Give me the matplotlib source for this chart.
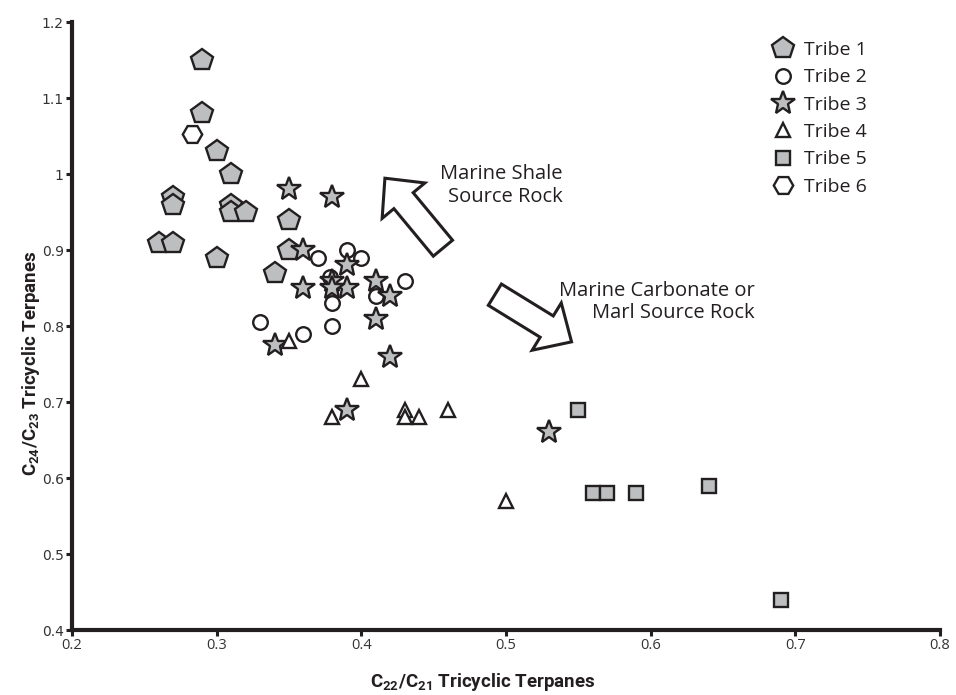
import matplotlib
matplotlib.use('agg')
from matplotlib import pyplot as plt
from matplotlib.patches import FancyArrowPatch, ArrowStyle

# C22/C21 (x) and C24/C23 (y) tricyclic terpane ratios per tribe
tribe1_x = [0.29, 0.29, 0.30, 0.31, 0.27, 0.27, 0.31, 0.31, 0.32, 0.26, 0.27, 0.30, 0.34, 0.35, 0.35]
tribe1_y = [1.15, 1.08, 1.03, 1.00, 0.97, 0.96, 0.96, 0.95, 0.95, 0.91, 0.91, 0.89, 0.87, 0.94, 0.90]

tribe2_x = [0.37, 0.39, 0.40, 0.43, 0.41, 0.38, 0.38, 0.33, 0.36, 0.378]
tribe2_y = [0.89, 0.90, 0.89, 0.86, 0.84, 0.83, 0.80, 0.805, 0.79, 0.865]

tribe3_x = [0.35, 0.38, 0.36, 0.39, 0.38, 0.39, 0.38, 0.36, 0.41, 0.42, 0.41, 0.34, 0.42, 0.39, 0.53]
tribe3_y = [0.98, 0.97, 0.90, 0.88, 0.86, 0.85, 0.85, 0.85, 0.86, 0.84, 0.81, 0.775, 0.76, 0.69, 0.66]

tribe4_x = [0.35, 0.40, 0.38, 0.43, 0.43, 0.44, 0.46, 0.50]
tribe4_y = [0.78, 0.73, 0.68, 0.69, 0.68, 0.68, 0.69, 0.57]

tribe5_x = [0.55, 0.56, 0.57, 0.59, 0.64, 0.69]
tribe5_y = [0.69, 0.58, 0.58, 0.58, 0.59, 0.44]

tribe6_x = [0.283]
tribe6_y = [1.053]

x_ticks = [0.2, 0.3, 0.4, 0.5, 0.6, 0.7, 0.8]
y_ticks = [0.4, 0.5, 0.6, 0.7, 0.8, 0.9, 1.0, 1.1, 1.2]

INK = '#231f20'
GREY = '#bcbec0'

plt.rcParams['mathtext.fontset'] = 'custom'
plt.rcParams['mathtext.bf'] = 'Roboto:bold'
plt.rcParams['mathtext.rm'] = 'Roboto:bold'

fig = plt.figure(figsize=(9.56, 6.95), dpi=100)
ax = fig.add_axes([0.0753, 0.0935, 0.908, 0.8745])

series = [
    ('Tribe 1', tribe1_x, tribe1_y, 'p', 16, GREY),
    ('Tribe 2', tribe2_x, tribe2_y, 'o', 10.5, 'white'),
    ('Tribe 3', tribe3_x, tribe3_y, '*', 18, GREY),
    ('Tribe 4', tribe4_x, tribe4_y, '^', 10, 'white'),
    ('Tribe 5', tribe5_x, tribe5_y, 's', 10, GREY),
    ('Tribe 6', tribe6_x, tribe6_y, 'H', 14, 'white'),
]
for label, xs, ys, marker, size, face in series:
    ax.plot(xs, ys, linestyle='none', marker=marker, markersize=size,
            markerfacecolor=face, markeredgecolor=INK, markeredgewidth=1.7,
            label=label, clip_on=False)

ax.set_xlim(0.2, 0.8)
ax.set_ylim(0.4, 1.2)
ax.set_xticks(x_ticks)
ax.set_yticks(y_ticks)
ax.set_xticklabels([f'{v:g}' for v in x_ticks], fontfamily='Open Sans', fontsize=10.5, color='#333333')
ax.set_yticklabels([f'{v:g}' for v in y_ticks], fontfamily='DejaVu Sans', fontsize=10, color='#333333')

for side in ('top', 'right'):
    ax.spines[side].set_visible(False)
for side in ('left', 'bottom'):
    ax.spines[side].set_linewidth(3)
    ax.spines[side].set_color(INK)
ax.tick_params(direction='out', length=4, width=2.2, color=INK, pad=2)

ax.set_xlabel(r'$\mathbf{C_{22}/C_{21}}$ Tricyclic Terpanes',
              fontfamily='Roboto', fontweight='bold', fontsize=13.5, color=INK)
ax.set_ylabel(r'$\mathbf{C_{24}/C_{23}}$ Tricyclic Terpanes',
              fontfamily='Roboto', fontweight='bold', fontsize=13.5, color=INK)
ax.xaxis.set_label_coords(0.473, -0.068)
ax.yaxis.set_label_coords(-0.035, 0.439)

# hollow block arrows pointing toward each source rock type
arrow_style = ArrowStyle.Simple(head_length=21, head_width=40, tail_width=18)
for tail, tip in [((0.4564, 0.9026), (0.4163, 0.9947)),
                  ((0.4923, 0.8414), (0.5453, 0.7793))]:
    ax.add_patch(FancyArrowPatch(tail, tip, arrowstyle=arrow_style, mutation_scale=1,
                                 shrinkA=0, shrinkB=0, facecolor='white',
                                 edgecolor=INK, linewidth=2.2, joinstyle='miter'))

ax.text(0.539, 0.985, 'Marine Shale\nSource Rock', ha='right', va='center',
        multialignment='right', fontfamily='Open Sans', fontsize=14.5, color=INK,
        linespacing=1.15)
ax.text(0.672, 0.832, 'Marine Carbonate or\nMarl Source Rock', ha='right', va='center',
        multialignment='right', fontfamily='Open Sans', fontsize=14.5, color=INK,
        linespacing=1.15)

ax.legend(loc='upper left', bbox_to_anchor=(0.797, 0.955), bbox_transform=fig.transFigure,
          frameon=False, prop={'family': 'Open Sans', 'size': 14},
          handlelength=1.2, handletextpad=0.45, labelspacing=0.48, borderpad=0,
          labelcolor=INK)

fig.savefig('out.png', dpi=100, facecolor='white')
